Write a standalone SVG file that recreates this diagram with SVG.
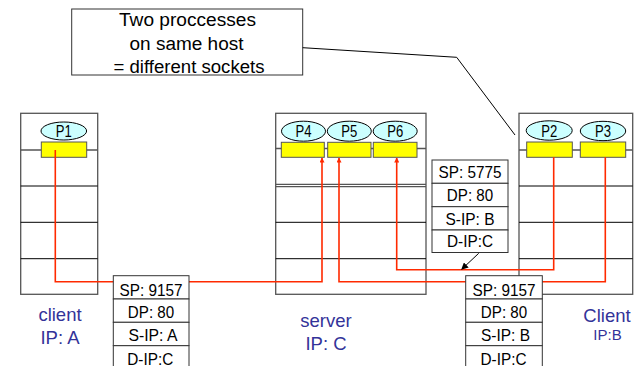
<svg xmlns="http://www.w3.org/2000/svg" width="635" height="366" viewBox="0 0 635 366">
<style>
text{font-family:"Liberation Sans",Arial,sans-serif;fill:#000}
.host{fill:#fff;stroke:#555;stroke-width:1.3}
.hl{stroke:#000;stroke-width:1}
.hg{stroke:#555;stroke-width:1.3}
.proc{fill:#ccffff;stroke:#000;stroke-width:1}
.sock{fill:#ffff00;stroke:#555;stroke-width:1}
.pt{font-size:16px;text-anchor:middle}
.lbl{fill:#333399;font-size:18.5px;text-anchor:middle}
.pk{fill:#fff;stroke:#333;stroke-width:1}
.pkt{font-size:17px;text-anchor:middle}
.red{fill:none;stroke:#ff2a00;stroke-width:1.6}
.blk{fill:none;stroke:#000;stroke-width:1}
.call{fill:#fff;stroke:#333;stroke-width:1}
.ct{font-size:18px;text-anchor:middle}
</style>
<defs>
<marker id="ra" viewBox="0 0 10 10" refX="9" refY="5" markerWidth="5" markerHeight="5" orient="auto" markerUnits="userSpaceOnUse"><path d="M0,0 L10,5 L0,10 z" fill="#ff2a00"/></marker>
<marker id="ba" viewBox="0 0 10 10" refX="9" refY="5" markerWidth="7" markerHeight="7" orient="auto" markerUnits="userSpaceOnUse"><path d="M0,0 L10,5 L0,10 z" fill="#000"/></marker>
</defs>

<g id="callout">
<rect class="call" x="71.7" y="9" width="231" height="66"/>
<text class="ct" x="187.5" y="26" textLength="137" lengthAdjust="spacingAndGlyphs">Two proccesses</text>
<text class="ct" x="186.5" y="49.5" textLength="114" lengthAdjust="spacingAndGlyphs">on same host</text>
<text class="ct" x="189" y="72.5" textLength="151" lengthAdjust="spacingAndGlyphs">= different sockets</text>
</g>

<g id="hostA">
<rect class="host" x="20.7" y="113.3" width="77" height="181"/>
<line class="hg" x1="20.7" y1="150" x2="97.7" y2="150"/>
<line class="hl" x1="20.7" y1="186" x2="97.7" y2="186"/>
<line class="hl" x1="20.7" y1="222.3" x2="97.7" y2="222.3"/>
<line class="hl" x1="20.7" y1="258.7" x2="97.7" y2="258.7"/>
<ellipse class="proc" cx="63.8" cy="131" rx="22.8" ry="9"/>
<text class="pt" x="63.8" y="137" textLength="16" lengthAdjust="spacingAndGlyphs">P1</text>
<rect class="sock" x="41.3" y="142" width="45.4" height="15.3"/>
<text class="lbl" x="60" y="321">client</text>
<text class="lbl" x="60" y="344">IP: A</text>
</g>

<g id="server">
<rect class="host" x="275.7" y="113.3" width="150.3" height="181"/>
<line class="hg" x1="275.7" y1="148.5" x2="426" y2="148.5"/>
<line class="hg" x1="275.7" y1="184.3" x2="426" y2="184.3"/>
<line class="hg" x1="275.7" y1="186.7" x2="426" y2="186.7"/>
<line class="hl" x1="275.7" y1="222.3" x2="426" y2="222.3"/>
<line class="hl" x1="275.7" y1="258.7" x2="426" y2="258.7"/>
<ellipse class="proc" cx="303.5" cy="131.2" rx="22" ry="10"/>
<ellipse class="proc" cx="349.3" cy="131.2" rx="22" ry="10"/>
<ellipse class="proc" cx="395.2" cy="131.2" rx="22" ry="10"/>
<text class="pt" x="303.5" y="137" textLength="16" lengthAdjust="spacingAndGlyphs">P4</text>
<text class="pt" x="349.3" y="137" textLength="16" lengthAdjust="spacingAndGlyphs">P5</text>
<text class="pt" x="395.2" y="137" textLength="16" lengthAdjust="spacingAndGlyphs">P6</text>
<rect class="sock" x="281.3" y="142.3" width="43" height="15"/>
<rect class="sock" x="327.7" y="142.3" width="43.3" height="15"/>
<rect class="sock" x="373.3" y="142.3" width="43.7" height="15"/>
<text class="lbl" x="326" y="327">server</text>
<text class="lbl" x="326" y="349.5">IP: C</text>
</g>

<g id="hostB">
<rect class="host" x="519" y="113.3" width="113.7" height="181"/>
<line class="hg" x1="519" y1="150" x2="632.7" y2="150"/>
<line class="hl" x1="519" y1="186" x2="632.7" y2="186"/>
<line class="hl" x1="519" y1="222.3" x2="632.7" y2="222.3"/>
<line class="hl" x1="519" y1="258.7" x2="632.7" y2="258.7"/>
<ellipse class="proc" cx="549.2" cy="130.5" rx="23" ry="9.7"/>
<ellipse class="proc" cx="603" cy="131" rx="22.7" ry="9.7"/>
<text class="pt" x="549.2" y="136.5" textLength="16" lengthAdjust="spacingAndGlyphs">P2</text>
<text class="pt" x="603" y="137" textLength="16" lengthAdjust="spacingAndGlyphs">P3</text>
<rect class="sock" x="526.7" y="142" width="45.6" height="15.3"/>
<rect class="sock" x="580.3" y="142" width="45.4" height="15.3"/>
<text class="lbl" x="607" y="321.7">Client</text>
<text class="lbl" x="607.5" y="340" style="font-size:15px">IP:B</text>
</g>

<g id="connectors">
<polyline class="blk" points="302.7,47.7 456.7,57.3 515,135"/>
<polyline class="red" points="55.3,150 55.3,281.7 322,281.7 322,158" marker-end="url(#ra)"/>
<polyline class="red" points="605.3,157.3 605.3,281.7 339,281.7 339,158" marker-end="url(#ra)"/>
<polyline class="red" points="553.7,157.3 553.7,269.7 396.7,269.7 396.7,158" marker-end="url(#ra)"/>
<line class="blk" x1="478.7" y1="253.3" x2="461.7" y2="269.3" marker-end="url(#ba)"/>
</g>

<g id="packetA">
<rect class="pk" x="113.3" y="275.7" width="75.7" height="23.3"/>
<rect class="pk" x="113.3" y="299" width="75.7" height="23.3"/>
<rect class="pk" x="113.3" y="322.3" width="75.7" height="23.3"/>
<rect class="pk" x="113.3" y="345.7" width="75.7" height="23.3"/>
<text class="pkt" x="151" y="296" textLength="63" lengthAdjust="spacingAndGlyphs">SP: 9157</text>
<text class="pkt" x="151" y="317.7" textLength="46.3" lengthAdjust="spacingAndGlyphs">DP: 80</text>
<text class="pkt" x="153" y="341" textLength="49" lengthAdjust="spacingAndGlyphs">S-IP: A</text>
<text class="pkt" x="150.3" y="364.5" textLength="46" lengthAdjust="spacingAndGlyphs">D-IP:C</text>
</g>

<g id="packetB1">
<rect class="pk" x="432" y="160" width="76" height="23.3"/>
<rect class="pk" x="432" y="183.3" width="76" height="23.4"/>
<rect class="pk" x="432" y="206.7" width="76" height="23.3"/>
<rect class="pk" x="432" y="230" width="76" height="22.5"/>
<text class="pkt" x="470" y="178" textLength="63" lengthAdjust="spacingAndGlyphs">SP: 5775</text>
<text class="pkt" x="470" y="201.3" textLength="46.3" lengthAdjust="spacingAndGlyphs">DP: 80</text>
<text class="pkt" x="470" y="224.5" textLength="49" lengthAdjust="spacingAndGlyphs">S-IP: B</text>
<text class="pkt" x="470" y="247" textLength="46" lengthAdjust="spacingAndGlyphs">D-IP:C</text>
</g>

<g id="packetB2">
<rect class="pk" x="465.7" y="275.7" width="76.6" height="23.3"/>
<rect class="pk" x="465.7" y="299" width="76.6" height="23.3"/>
<rect class="pk" x="465.7" y="322.3" width="76.6" height="23.3"/>
<rect class="pk" x="465.7" y="345.7" width="76.6" height="23.3"/>
<text class="pkt" x="504" y="296" textLength="63" lengthAdjust="spacingAndGlyphs">SP: 9157</text>
<text class="pkt" x="504" y="317.7" textLength="46.3" lengthAdjust="spacingAndGlyphs">DP: 80</text>
<text class="pkt" x="505.5" y="341" textLength="49" lengthAdjust="spacingAndGlyphs">S-IP: B</text>
<text class="pkt" x="503.5" y="364.5" textLength="46" lengthAdjust="spacingAndGlyphs">D-IP:C</text>
</g>
</svg>
